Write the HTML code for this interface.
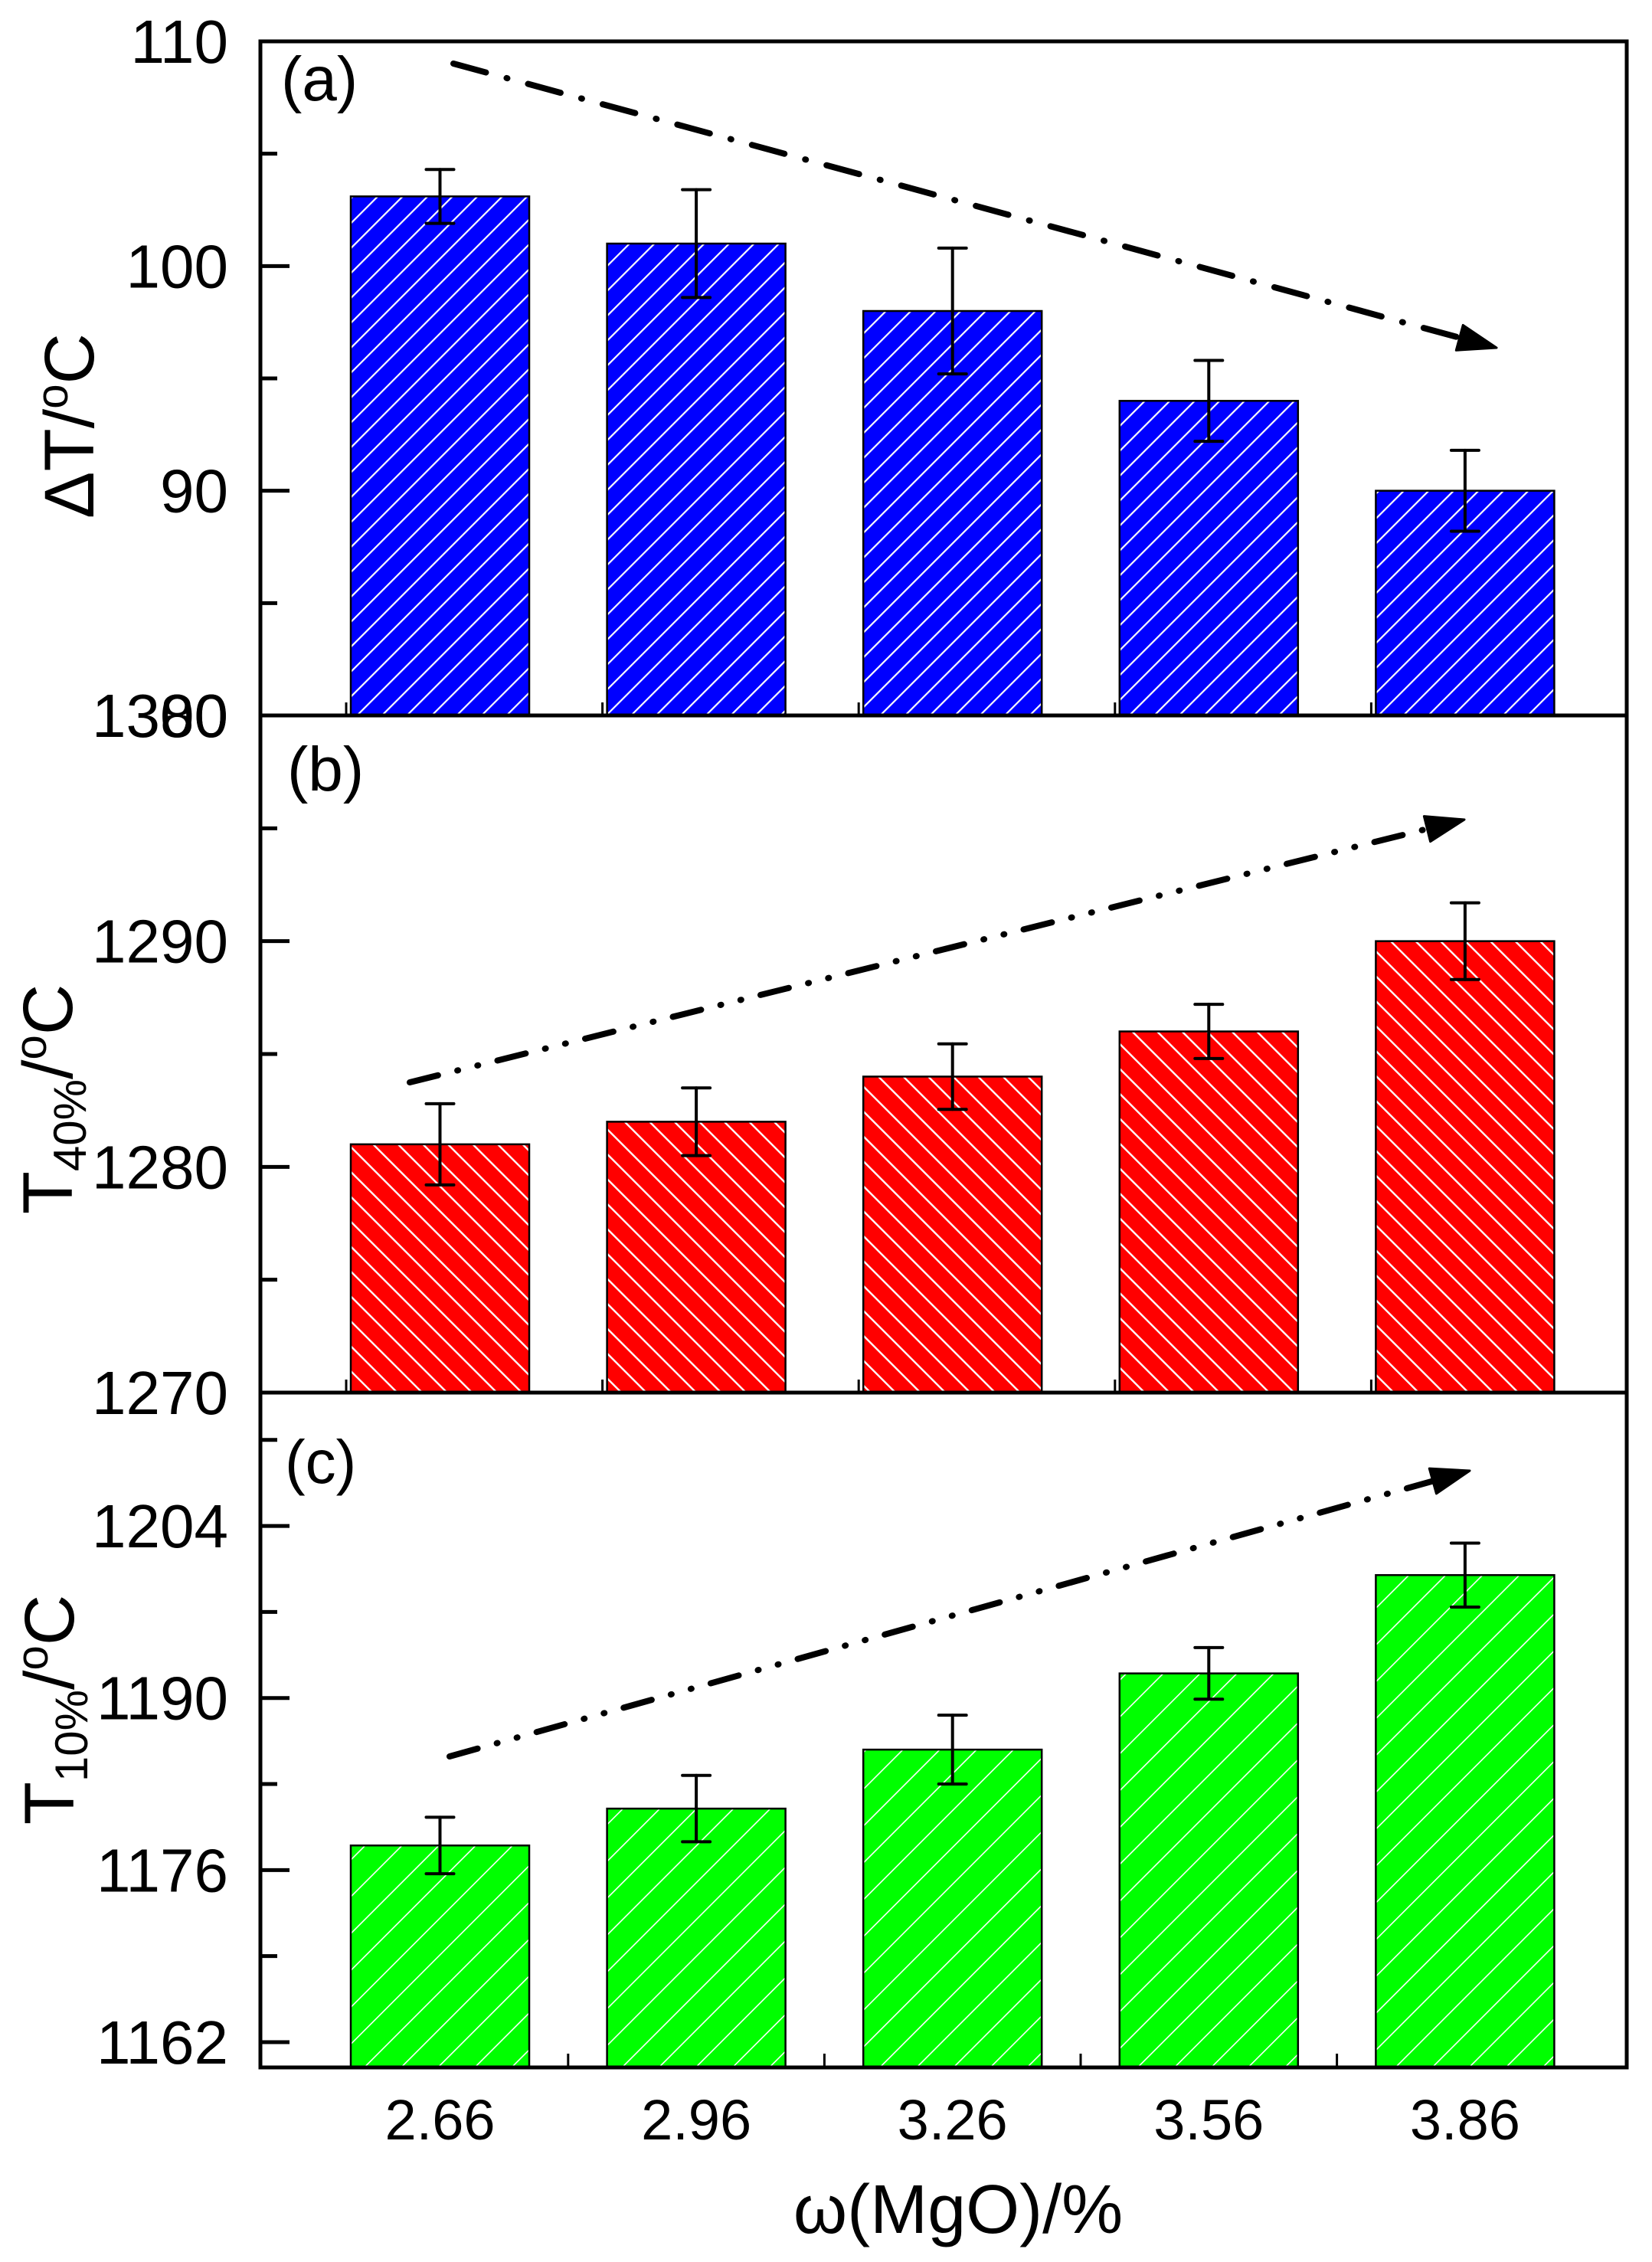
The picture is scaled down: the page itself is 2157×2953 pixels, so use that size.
<!DOCTYPE html>
<html><head><meta charset="utf-8"><style>
html,body{margin:0;padding:0;background:#fff;}
svg{display:block;font-family:"Liberation Sans",sans-serif;}
</style></head><body>
<svg id="chart" width="2157" height="2953" viewBox="0 0 2157 2953" xmlns="http://www.w3.org/2000/svg">
<defs>
<pattern id="hatchA" patternUnits="userSpaceOnUse" width="23" height="23" patternTransform="rotate(45)"><rect width="23" height="23" fill="#0000ff"/><rect x="0" y="0" width="2.2" height="23" fill="#fff"/></pattern>
<pattern id="hatchB" patternUnits="userSpaceOnUse" width="23" height="23" patternTransform="rotate(-45)"><rect width="23" height="23" fill="#ff0000"/><rect x="0" y="0" width="2.4" height="23" fill="#fff"/></pattern>
<pattern id="hatchC" patternUnits="userSpaceOnUse" width="34" height="34" patternTransform="rotate(45)"><rect width="34" height="34" fill="#00ff00"/><rect x="0" y="0" width="1.6" height="34" fill="#fff"/></pattern>
</defs>
<g id="plot"></g>
</svg>
<script>
const categories = ["2.66","2.96","3.26","3.56","3.86"];
const deltaT = [103.1, 101.0, 98.0, 94.0, 90.0];
const deltaTErr = [1.2, 2.4, 2.8, 1.8, 1.8];
const t40 = [1281.0, 1282.0, 1284.0, 1286.0, 1290.0];
const t40Err = [1.8, 1.5, 1.45, 1.2, 1.7];
const t10 = [1178.0, 1181.0, 1185.8, 1192.0, 1200.0];
const t10Err = [2.3, 2.7, 2.8, 2.1, 2.6];
const ticksA = [80, 90, 100, 110];
const minorA = [85, 95, 105];
const ticksB = [1270, 1280, 1290, 1300];
const minorB = [1275, 1285, 1295];
const ticksC = [1162, 1176, 1190, 1204];
const minorC = [1169, 1183, 1197, 1211];

const NS = "http://www.w3.org/2000/svg";
const g = document.getElementById("plot");
const L = 340, R = 2124;
const BW = 233;
function xScale(i){ return 574.5 + i * 334.6; }
function mk(tag, attrs, parent){
  const e = document.createElementNS(NS, tag);
  for (const k in attrs) e.setAttribute(k, attrs[k]);
  (parent || g).appendChild(e);
  return e;
}
function yScaleFactory(top, bottom, vmin, vmax){
  return v => bottom - (v - vmin) / (vmax - vmin) * (bottom - top);
}
const panels = [
  {key:"a", top:54, bottom:934, vmin:80, vmax:110, vals:deltaT, errs:deltaTErr, ticks:ticksA, minor:minorA, fill:"url(#hatchA)", skipLabel:[]},
  {key:"b", top:934, bottom:1818, vmin:1270, vmax:1300, vals:t40, errs:t40Err, ticks:ticksB, minor:minorB, fill:"url(#hatchB)", skipLabel:[]},
  {key:"c", top:1818, bottom:2699, vmin:1159.94, vmax:1214.85, vals:t10, errs:t10Err, ticks:ticksC, minor:minorC, fill:"url(#hatchC)", skipLabel:[]}
];
panels.forEach(p => {
  const ys = yScaleFactory(p.top, p.bottom, p.vmin, p.vmax);
  const pg = mk("g", {});
  
  
  // bars
  p.vals.forEach((v, i) => {
    const x = xScale(i) - BW/2, y = ys(v);
    const b = mk("rect", {x:x, y:y, width:BW, height:p.bottom - y, fill:p.fill, stroke:"#000", "stroke-width":2.5}, pg);
    
    
  });
  // error bars
  p.vals.forEach((v, i) => {
    const cx = xScale(i), y1 = ys(v + p.errs[i]), y2 = ys(v - p.errs[i]);
    const eg = mk("g", {stroke:"#000", "stroke-width":4, "stroke-linecap":"round"}, pg);
    
    
    mk("line", {x1:cx, x2:cx, y1:y1, y2:y2}, eg);
    mk("line", {x1:cx-18, x2:cx+18, y1:y1, y2:y1}, eg);
    mk("line", {x1:cx-18, x2:cx+18, y1:y2, y2:y2}, eg);
  });
  // y ticks
  p.ticks.forEach(t => {
    const y = ys(t);
    if (y >= p.top - 1 && y <= p.bottom + 1) {
      const tk = mk("line", {x1:L, x2:L+38, y1:y, y2:y, stroke:"#000", "stroke-width":5}, pg);
      
      
    }
    const tx = mk("text", {x:298, y:y + 28, "text-anchor":"end", "font-size":80, fill:"#000"}, pg);
    tx.textContent = t;
    
    
  });
  p.minor.forEach(t => {
    const y = ys(t);
    const tk = mk("line", {x1:L, x2:L+22, y1:y, y2:y, stroke:"#000", "stroke-width":5}, pg);
    
    
  });
  // x ticks
  categories.forEach((c, i) => {
    let x, len;
    if (p.key === "c") { if (i === 4) return; x = xScale(i) + 167.3; len = 18; }
    else { x = xScale(i) - BW/2 - 6; len = 17; }
    const tk = mk("line", {x1:x, x2:x, y1:p.bottom, y2:p.bottom - len, stroke:"#000", "stroke-width":3}, pg);
    
    
  });
  // frame
  const fr = mk("rect", {x:L, y:p.top, width:R-L, height:p.bottom-p.top, fill:"none", stroke:"#000", "stroke-width":5}, pg);
  
  
});
// x tick labels
categories.forEach((c, i) => {
  const t = mk("text", {x:xScale(i), y:2793, "text-anchor":"middle", "font-size":74, fill:"#000"});
  t.textContent = c;
  
  
});
// trend arrows
function arrow(name, x1, y1, x2, y2, dash){
  const ag = mk("g", {});
  
  
  const dx = x2 - x1, dy = y2 - y1, len = Math.hypot(dx, dy);
  const ux = dx/len, uy = dy/len;
  const hl = 50, hw = 17;
  const bx = x2 - ux*hl, by = y2 - uy*hl;
  mk("line", {x1:x1, y1:y1, x2:bx, y2:by, stroke:"#000", "stroke-width":8, "stroke-linecap":"round", "stroke-dasharray":dash}, ag);
  mk("polygon", {points:`${x2},${y2} ${bx - uy*hw},${by + ux*hw} ${bx + uy*hw},${by - ux*hw}`, fill:"#000", stroke:"#000", "stroke-width":3, "stroke-linejoin":"round"}, ag);
}
arrow("trend-arrow-a", 592, 83, 1954, 454, "44 28 1 28");
arrow("trend-arrow-b", 535, 1413, 1912, 1070, "38 26 1 26 1 26");
arrow("trend-arrow-c", 587, 2293, 1919, 1920, "38 26 1 26 1 26");
</script>
<g></g>
<svg width="0" height="0"></svg>
<script>
const s = document.getElementById("chart");
function addText(attrs, html, name){
  const e = document.createElementNS("http://www.w3.org/2000/svg", "text");
  for (const k in attrs) e.setAttribute(k, attrs[k]);
  e.innerHTML = html;
  
  
  s.appendChild(e);
}
addText({x:367, y:131, "font-size":82}, "(a)", "panel-label-a");
addText({x:375, y:1032, "font-size":82}, "(b)", "panel-label-b");
addText({x:372, y:1936, "font-size":80}, "(c)", "panel-label-c");
addText({transform:"translate(122,556) rotate(-90)", "text-anchor":"middle", "font-size":92}, 'ΔT/<tspan font-size="58" dy="-34">o</tspan><tspan dy="34">C</tspan>', "y-axis-title-a");
addText({transform:"translate(94,1435) rotate(-90)", "text-anchor":"middle", "font-size":92}, 'T<tspan font-size="60" dy="18">40%</tspan><tspan dy="-18">/</tspan><tspan font-size="58" dy="-34">o</tspan><tspan dy="34">C</tspan>', "y-axis-title-b");
addText({transform:"translate(96,2232) rotate(-90)", "text-anchor":"middle", "font-size":92}, 'T<tspan font-size="60" dy="18">10%</tspan><tspan dy="-18">/</tspan><tspan font-size="58" dy="-34">o</tspan><tspan dy="34">C</tspan>', "y-axis-title-c");
addText({x:1251, y:2915, "text-anchor":"middle", "font-size":90}, "ω(MgO)/%", "x-axis-title");
</script>
</body></html>
